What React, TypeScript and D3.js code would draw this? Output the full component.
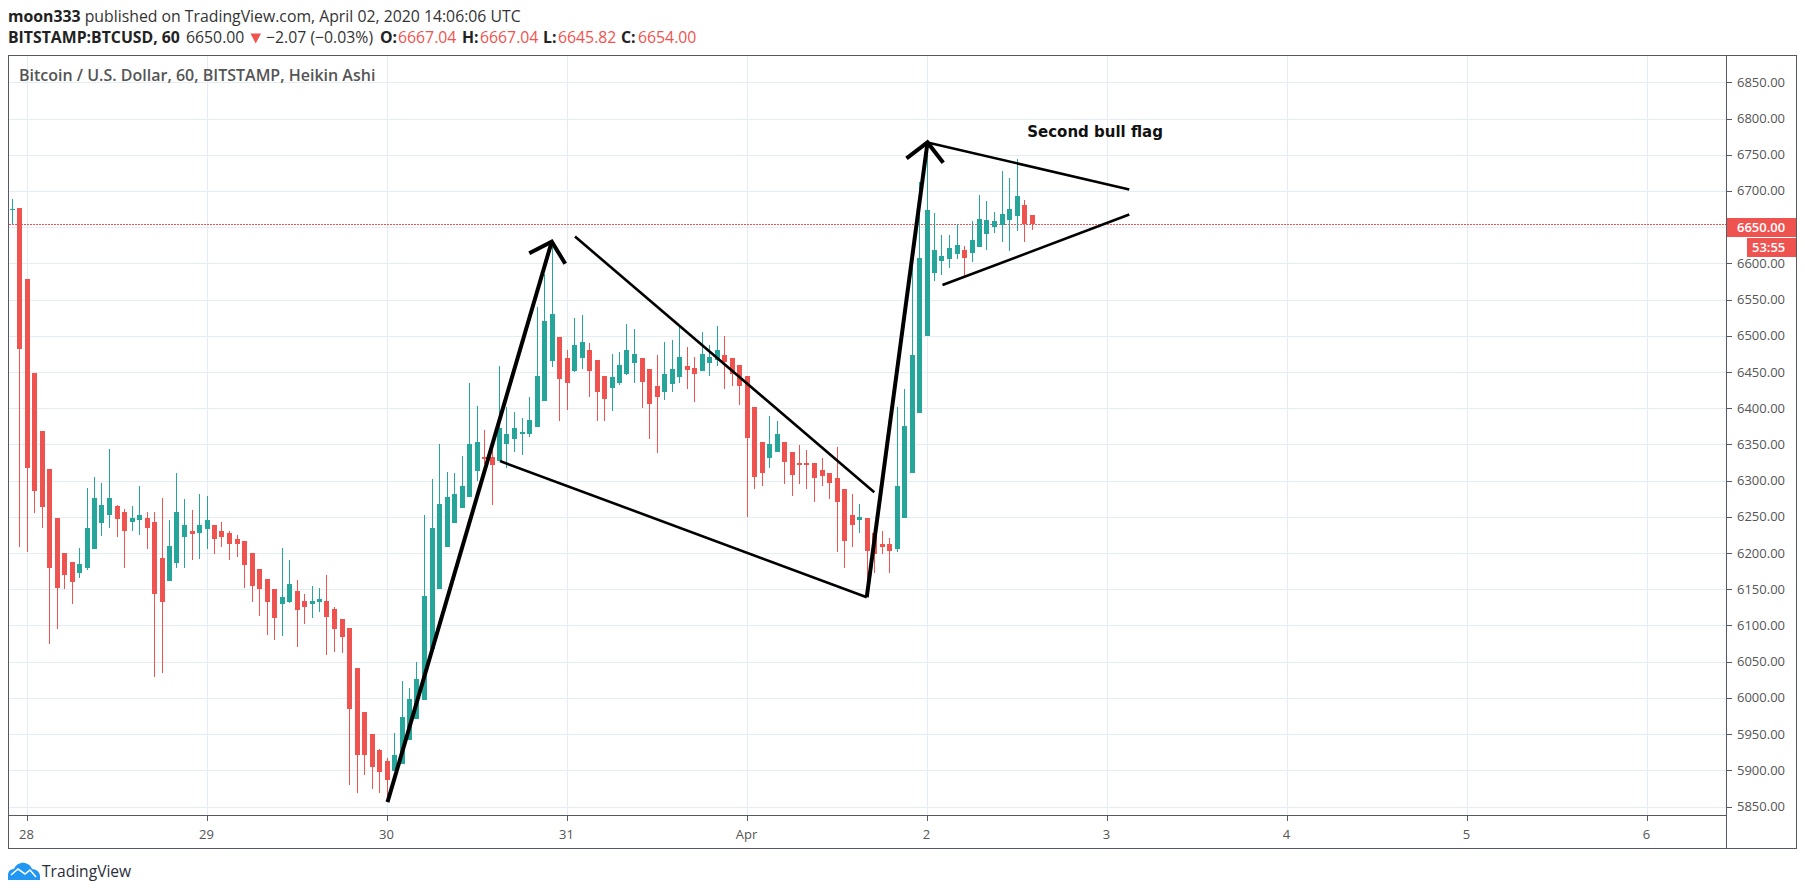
import React from 'react';
import * as d3 from 'd3';

// hourly Heikin Ashi candles, first one is Mar 27 22:00 (hour -2 from Mar 28 00:00)
const FIRST_HOUR = -2;
const openPrices = [
  6674.5, 6676, 6579, 6449, 6369, 6316, 6249, 6200, 6187, 6173,
  6179, 6206, 6241, 6253, 6265, 6257, 6243, 6245, 6249, 6243,
  6193, 6162, 6186, 6222, 6231, 6227, 6233, 6239, 6231, 6227,
  6220, 6217, 6200, 6178, 6164, 6150, 6129, 6133, 6147, 6134,
  6129, 6132, 6134, 6123, 6109, 6097, 6041, 5981, 5950, 5928,
  5913, 5899, 5909, 5942, 5971, 5997, 6067, 6151, 6209, 6242,
  6262, 6277, 6313, 6333, 6333, 6327, 6350, 6357, 6364, 6364,
  6374, 6410, 6465, 6498, 6469, 6451, 6469, 6481, 6466, 6445,
  6428, 6435, 6447, 6462, 6469, 6454, 6430, 6422, 6433, 6443,
  6458, 6456, 6452, 6462, 6466, 6474, 6469, 6459, 6445, 6402,
  6354, 6331, 6340, 6354, 6340, 6325, 6324, 6324, 6314, 6311,
  6304, 6288, 6252, 6245, 6249, 6227, 6213, 6212, 6206, 6249,
  6311, 6393, 6499, 6586, 6603, 6606, 6613, 6619, 6614, 6622,
  6640, 6650, 6653, 6660, 6666, 6680, 6667.04,
];
const closePrices = [
  6675.5, 6482, 6318, 6286, 6263, 6180, 6152, 6170, 6160, 6185,
  6235, 6276, 6267, 6276, 6247, 6230, 6249, 6252, 6235, 6144,
  6133, 6210, 6257, 6239, 6226, 6239, 6245, 6220, 6222, 6213,
  6212, 6184, 6155, 6150, 6133, 6110, 6139, 6157, 6122, 6125,
  6134, 6137, 6111, 6095, 6084, 5984, 5921, 5921, 5905, 5897,
  5887, 5921, 5974, 5999, 6026, 6140, 6235, 6268, 6278, 6282,
  6293, 6351, 6353, 6330, 6322, 6373, 6365, 6372, 6367, 6384,
  6445, 6521, 6530, 6440, 6435, 6487, 6491, 6451, 6422, 6412,
  6443, 6460, 6480, 6475, 6436, 6406, 6416, 6447, 6454, 6471,
  6453, 6447, 6475, 6471, 6481, 6464, 6447, 6430, 6359, 6305,
  6310, 6351, 6365, 6326, 6308, 6321, 6321, 6304, 6306, 6297,
  6270, 6216, 6239, 6250, 6203, 6198, 6209, 6203, 6293, 6375,
  6474, 6608, 6673, 6619, 6610, 6621, 6626, 6608, 6632, 6661,
  6660, 6658, 6668, 6675, 6693, 6655, 6654,
];
const highPrices = [
  6689, 6676, 6579, 6449, 6369, 6316, 6249, 6200, 6187, 6207,
  6290, 6305, 6297, 6343, 6267, 6261, 6265, 6292, 6257, 6256,
  6276, 6245, 6311, 6274, 6260, 6282, 6279, 6239, 6243, 6230,
  6225, 6217, 6200, 6178, 6164, 6150, 6207, 6191, 6163, 6144,
  6155, 6152, 6169, 6126, 6109, 6097, 6041, 5981, 5950, 5930,
  5917, 5951, 6023, 6014, 6049, 6252, 6302, 6350, 6312, 6311,
  6334, 6435, 6403, 6370, 6358, 6458, 6401, 6395, 6387, 6415,
  6540, 6585, 6627, 6498, 6481, 6525, 6528, 6490, 6466, 6445,
  6475, 6477, 6516, 6509, 6469, 6454, 6474, 6491, 6494, 6513,
  6485, 6471, 6505, 6487, 6513, 6499, 6469, 6459, 6445, 6402,
  6354, 6389, 6383, 6354, 6340, 6349, 6342, 6325, 6331, 6311,
  6347, 6288, 6281, 6268, 6249, 6227, 6231, 6221, 6401, 6426,
  6595, 6712, 6767, 6669, 6639, 6639, 6654, 6624, 6658, 6695,
  6686, 6671, 6727, 6718, 6744, 6687, 6667.04,
];
const lowPrices = [
  6655, 6209, 6201, 6255, 6235, 6074, 6095, 6150, 6129, 6165,
  6177, 6206, 6223, 6235, 6222, 6180, 6231, 6225, 6206, 6029,
  6035, 6162, 6180, 6180, 6191, 6192, 6205, 6198, 6208, 6191,
  6195, 6152, 6133, 6113, 6087, 6080, 6085, 6131, 6070, 6102,
  6110, 6118, 6059, 6063, 6062, 5880, 5868, 5894, 5874, 5869,
  5856, 5899, 5909, 5942, 5971, 5997, 6067, 6151, 6209, 6242,
  6262, 6277, 6300, 6323, 6267, 6327, 6317, 6339, 6335, 6360,
  6374, 6410, 6457, 6382, 6397, 6450, 6454, 6416, 6383, 6382,
  6396, 6432, 6446, 6435, 6400, 6357, 6338, 6411, 6423, 6435,
  6426, 6409, 6452, 6444, 6458, 6427, 6431, 6404, 6250, 6289,
  6292, 6317, 6340, 6296, 6279, 6295, 6289, 6270, 6292, 6274,
  6201, 6180, 6208, 6228, 6140, 6173, 6198, 6172, 6202, 6249,
  6311, 6393, 6499, 6575, 6584, 6593, 6606, 6582, 6602, 6622,
  6619, 6642, 6629, 6617, 6644, 6629, 6645.82,
];

const priceTicks = [5850, 5900, 5950, 6000, 6050, 6100, 6150, 6200, 6250, 6300, 6350, 6400, 6450, 6500, 6550, 6600, 6650, 6700, 6750, 6800, 6850];
const dayTickHours = [0, 24, 48, 72, 96, 120, 144, 168, 192, 216];
const dayTickLabels = ['28', '29', '30', '31', 'Apr', '2', '3', '4', '5', '6'];
const lastPrice = 6654;

// hand drawn trend lines, [hour, price]
const thickLines: [number, number][][] = [
  [[48, 5856], [69.9, 6630]],
  [[66.9, 6614], [69.9, 6630], [71.7, 6599.5]],
  [[111.9, 6139], [120, 6767]],
  [[117.2, 6745], [120, 6767], [122.1, 6739]],
];
const thinLines: [number, number][][] = [
  [[73, 6637], [112.9, 6284]],
  [[63, 6327], [111.9, 6139]],
  [[120, 6767], [146.9, 6702]],
  [[122, 6570], [146.9, 6667.5]],
];
const flagLabel = { hour: 133.3, price: 6775, text: 'Second bull flag' };

const UP = '#26a69a';
const DOWN = '#ef5350';
const GRID = '#e3edf3';
const FRAME = '#555963';
const TEXT = '#555';
const UI_FONT = '"Open Sans", sans-serif';

const left = 8.5;
const top = 55.5;
const plotRight = 1726.5;
const right = 1796.5;
const plotBottom = 815.5;
const bottom = 848.5;

const x = d3.scaleLinear().domain([0, 216]).range([27.5, 1647.5]);
const y = d3.scaleLinear().domain([5850, 6850]).range([806.5, 82.3]);
const px = (v: number) => Math.floor(v - 0.5);

const trendLine = d3.line<[number, number]>()
  .x((d) => x(d[0]))
  .y((d) => y(d[1]));

const App: React.FC = () => {
  const priceY = Math.round(y(lastPrice)) + 0.5;
  return (
    <svg
      width={1805}
      height={895}
      viewBox="0 0 1805 895"
      style={{ position: 'absolute', left: 0, top: 0, background: '#fff' }}
    >
      {/* header */}
      <g fontFamily={UI_FONT} fontSize={15.8} fill="#333">
        <text x={8} y={22}>
          <tspan fontWeight={700} fill="#222">moon333</tspan>
          <tspan> published on TradingView.com, April 02, 2020 14:06:06 UTC</tspan>
        </text>
        <text x={8} y={43} fontWeight={700} fill="#222">BITSTAMP:BTCUSD, 60</text>
        <text x={186} y={43}>6650.00</text>
        <path d="M250.5,33.5 L261,33.5 L255.7,43.5 Z" fill={DOWN} />
        <text x={266} y={43}>−2.07 (−0.03%)</text>
        <text x={380} y={43} fontWeight={700} fill="#222">O:</text>
        <text x={398} y={43} fill={DOWN}>6667.04</text>
        <text x={462} y={43} fontWeight={700} fill="#222">H:</text>
        <text x={480} y={43} fill={DOWN}>6667.04</text>
        <text x={543} y={43} fontWeight={700} fill="#222">L:</text>
        <text x={558} y={43} fill={DOWN}>6645.82</text>
        <text x={621} y={43} fontWeight={700} fill="#222">C:</text>
        <text x={638} y={43} fill={DOWN}>6654.00</text>
      </g>

      {/* grid */}
      <g stroke={GRID} strokeWidth={1} shapeRendering="crispEdges">
        {priceTicks.map((p) => (
          <line key={p} x1={left} x2={plotRight} y1={Math.round(y(p)) + 0.5} y2={Math.round(y(p)) + 0.5} />
        ))}
        {dayTickHours.map((h) => (
          <line key={h} x1={x(h)} x2={x(h)} y1={top} y2={plotBottom} />
        ))}
      </g>

      <text x={19} y={81} fontFamily={UI_FONT} fontSize={16} fontWeight={600} fill="#555">
        Bitcoin / U.S. Dollar, 60, BITSTAMP, Heikin Ashi
      </text>

      {/* last price line */}
      <line
        x1={left}
        x2={plotRight}
        y1={priceY}
        y2={priceY}
        stroke={DOWN}
        strokeDasharray="2 1"
        shapeRendering="crispEdges"
      />

      {/* candles */}
      <g shapeRendering="crispEdges">
        {openPrices.map((open, i) => {
          const close = closePrices[i];
          const cx = px(x(FIRST_HOUR + i));
          const color = close >= open ? UP : DOWN;
          const bodyTop = Math.round(y(Math.max(open, close)));
          const bodyBottom = Math.round(y(Math.min(open, close)));
          const wickTop = Math.round(y(highPrices[i]));
          const wickBottom = Math.round(y(lowPrices[i]));
          return (
            <g key={i} fill={color}>
              <rect x={cx} y={wickTop} width={1} height={Math.max(1, wickBottom - wickTop)} />
              <rect x={cx - 2} y={bodyTop} width={5} height={Math.max(1, bodyBottom - bodyTop)} />
            </g>
          );
        })}
      </g>

      {/* drawings */}
      <g fill="none" stroke="#000">
        {thickLines.map((pts, i) => (
          <path key={i} d={trendLine(pts) ?? ''} strokeWidth={4} strokeLinejoin="miter" />
        ))}
        {thinLines.map((pts, i) => (
          <path key={i} d={trendLine(pts) ?? ''} strokeWidth={2.6} />
        ))}
      </g>
      <text
        x={x(flagLabel.hour)}
        y={y(flagLabel.price)}
        fontFamily='"DejaVu Sans", sans-serif'
        fontSize={15}
        fontWeight={700}
        fill="#111"
      >
        {flagLabel.text}
      </text>

      {/* frame and axes */}
      <g fill="none" stroke={FRAME} shapeRendering="crispEdges">
        <rect x={left} y={top} width={right - left} height={bottom - top} />
        <line x1={plotRight} x2={plotRight} y1={top} y2={bottom} />
        <line x1={left} x2={plotRight} y1={plotBottom} y2={plotBottom} />
        {priceTicks.map((p) => (
          <line key={p} x1={plotRight} x2={plotRight + 5} y1={Math.round(y(p)) + 0.5} y2={Math.round(y(p)) + 0.5} />
        ))}
        {dayTickHours.map((h) => (
          <line key={h} x1={x(h)} x2={x(h)} y1={plotBottom} y2={plotBottom + 5} />
        ))}
      </g>
      <g fontFamily={UI_FONT} fontSize={13} fill={TEXT}>
        {priceTicks.map((p) => (
          <text key={p} x={1737} y={y(p)} dy="0.35em">{d3.format('.2f')(p)}</text>
        ))}
        {dayTickHours.map((h, i) => (
          <text key={h} x={x(h) - 1} y={839} textAnchor="middle">{dayTickLabels[i]}</text>
        ))}
      </g>

      {/* last price tags */}
      <rect x={1727} y={218} width={69} height={19} fill={DOWN} />
      <rect x={1747} y={238} width={49} height={19} fill={DOWN} />
      <g fontFamily={UI_FONT} fontSize={13} fill="#fff" fontWeight={600}>
        <text x={1737} y={y(6650)} dy="0.35em">6650.00</text>
        <text x={1752} y={252}>53:55</text>
      </g>

      {/* logo */}
      <g transform="translate(8,862)">
        <path
          d="M0,18 V13 C0,9 3,7 6,7 C8,2 13,0 17,1 C21,2 23,4 24,7 C28,7 32,10 32,14 V18 Z"
          fill="#2196f3"
        />
        <path d="M3,13 L10,7 L17,12 L22,8 L28,15" fill="none" stroke="#fff" strokeWidth={1.6} />
      </g>
      <text x={42} y={877} fontFamily={UI_FONT} fontSize={15.6} fill="#2a2e39">TradingView</text>
    </svg>
  );
};

export default App;
